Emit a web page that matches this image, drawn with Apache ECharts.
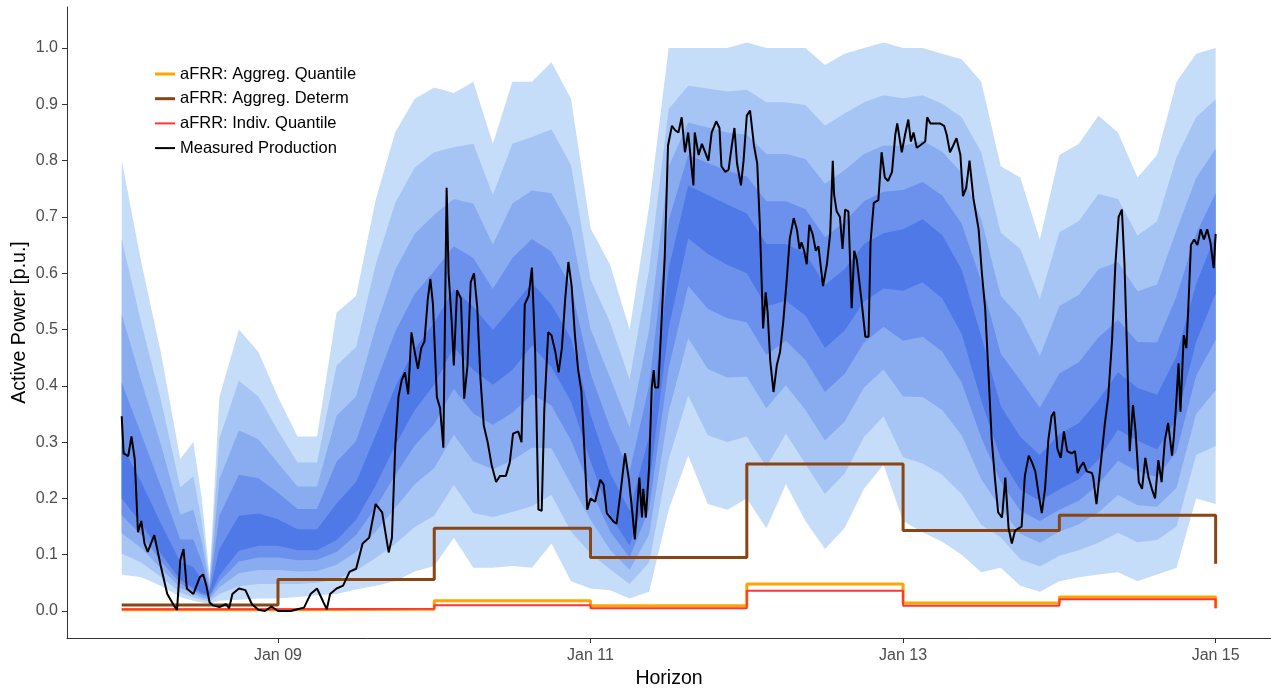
<!DOCTYPE html>
<html>
<head>
<meta charset="utf-8">
<script src="https://cdn.jsdelivr.net/npm/echarts@6/dist/echarts.min.js"></script>
<style>
html,body{margin:0;padding:0;background:#fff;}
#chart{width:1271px;height:690px;}
</style>
</head>
<body>
<div id="chart"></div>
<script>
// ---- Data (hours since Jan 08 00:00) ----
const tickHours = [24, 72, 120, 168];
const tickLabels = ['Jan 09', 'Jan 11', 'Jan 13', 'Jan 15'];
const yTicks = [0, 0.1, 0.2, 0.3, 0.4, 0.5, 0.6, 0.7, 0.8, 0.9, 1.0];

const fanHours = [0,3,6,9,11,12.3,13.5,15,18,21,24,27,30,33,36,39,42,45,48,51,54,57,60,63,66,69,72,75,78,81,84,87,90,93,96,99,102,105,108,111,114,117,120,123,126,129,132,135,138,141,144,147,150,153,156,159,162,165,168];

const band1Hi = [.80,.62,.46,.27,.30,.20,.06,.38,.50,.46,.38,.31,.31,.53,.56,.73,.85,.91,.93,.92,.94,.83,.94,.94,.975,.91,.68,.615,.50,.72,1.0,1.0,1.0,1.0,1.01,1.0,1.0,1.0,.97,.99,1.0,1.01,1.0,1.0,.99,.98,.94,.79,.77,.66,.81,.83,.88,.85,.77,.81,.94,.99,1.0];
const band1Lo = [.065,.06,.045,.025,.018,.015,.013,.018,.02,.022,.022,.025,.028,.03,.038,.045,.053,.07,.08,.13,.077,.077,.08,.077,.12,.053,.04,.037,.022,.034,.18,.276,.19,.18,.20,.147,.225,.16,.11,.147,.217,.26,.16,.14,.123,.10,.069,.077,.045,.034,.053,.06,.065,.069,.053,.065,.077,.20,.19];
const band2Hi = [.661,.512,.376,.220,.239,.160,.053,.306,.409,.381,.320,.264,.264,.436,.469,.615,.725,.788,.815,.824,.830,.739,.830,.842,.856,.792,.589,.513,.411,.607,.892,.933,.928,.923,.926,.904,.904,.899,.862,.884,.904,.916,.911,.916,.901,.877,.815,.672,.643,.554,.673,.693,.741,.732,.667,.692,.806,.877,.909];
const band2Lo = [.102,.086,.061,.033,.024,.020,.017,.030,.044,.048,.048,.048,.050,.056,.072,.094,.119,.149,.169,.224,.174,.167,.176,.186,.206,.141,.102,.074,.048,.086,.269,.383,.312,.300,.310,.256,.315,.261,.208,.244,.309,.346,.273,.262,.242,.208,.153,.131,.092,.079,.098,.108,.121,.139,.122,.126,.150,.277,.293];
const band3Hi = [.527,.409,.296,.171,.180,.122,.046,.234,.321,.305,.263,.221,.221,.347,.381,.504,.606,.670,.704,.732,.724,.651,.724,.747,.742,.680,.501,.415,.326,.499,.789,.868,.859,.850,.846,.812,.812,.803,.759,.783,.812,.827,.826,.836,.816,.778,.696,.560,.521,.453,.542,.562,.607,.620,.568,.580,.677,.769,.821];
const band3Lo = [.138,.112,.076,.041,.031,.024,.021,.042,.067,.073,.073,.070,.071,.082,.105,.141,.183,.225,.254,.313,.266,.252,.268,.290,.289,.225,.162,.109,.073,.136,.354,.485,.430,.415,.416,.360,.401,.357,.303,.336,.397,.429,.381,.380,.357,.312,.234,.182,.137,.121,.141,.154,.175,.206,.188,.185,.219,.350,.392];
const band4Hi = [.406,.314,.222,.127,.127,.088,.040,.169,.242,.236,.210,.181,.181,.265,.302,.404,.496,.563,.604,.648,.627,.572,.627,.661,.638,.577,.422,.326,.248,.400,.694,.810,.796,.782,.772,.728,.728,.714,.664,.691,.728,.745,.748,.762,.738,.688,.586,.457,.410,.361,.422,.442,.486,.517,.478,.477,.559,.670,.742];
const band4Lo = [.170,.135,.089,.049,.036,.029,.025,.053,.088,.095,.095,.090,.091,.105,.135,.184,.241,.294,.332,.395,.351,.331,.352,.385,.365,.303,.217,.141,.095,.181,.432,.578,.537,.520,.513,.455,.480,.446,.389,.421,.477,.505,.480,.487,.461,.406,.308,.229,.178,.160,.180,.196,.225,.267,.248,.238,.283,.418,.482];
const band5Hi = [.295,.229,.156,.087,.078,.056,.034,.110,.169,.173,.163,.145,.145,.191,.229,.312,.398,.466,.512,.572,.540,.499,.540,.583,.544,.484,.349,.245,.178,.311,.609,.756,.739,.722,.706,.652,.652,.635,.579,.607,.652,.671,.678,.696,.668,.606,.488,.364,.309,.277,.314,.334,.375,.424,.396,.384,.453,.581,.669];
const band5Lo = [.200,.156,.102,.055,.041,.032,.028,.063,.107,.116,.116,.108,.108,.126,.162,.223,.294,.357,.402,.469,.428,.402,.428,.471,.433,.372,.266,.170,.116,.222,.502,.662,.634,.615,.600,.541,.551,.525,.467,.498,.550,.573,.569,.584,.555,.492,.374,.271,.215,.196,.216,.234,.269,.322,.303,.287,.341,.478,.564];

// daily reserve levels (start of each day, last = value at Jan 15 00:00)
const dayHours = [0, 24, 48, 72, 96, 120, 144, 168];
const aggregQuantile = [0.002, 0.003, 0.018, 0.0094, 0.048, 0.014, 0.025, 0.005];
const aggregDeterm   = [0.0107, 0.056, 0.147, 0.095, 0.261, 0.143, 0.170, 0.084];
const indivQuantile  = [0.003, 0.004, 0.010, 0.005, 0.036, 0.0094, 0.021, 0.005];

const measured = [[0,.346],[0.3,.28],[1,.275],[1.5,.31],[2,.27],[2.5,.14],[3,.16],[3.5,.12],[4,.105],[5,.135],[6,.08],[7,.03],[8,.01],[8.5,.002],[9,.09],[9.5,.11],[10,.04],[11,.03],[12,.06],[12.5,.065],[13,.045],[13.5,.015],[14,.01],[15,.007],[16,.012],[16.5,.005],[17,.03],[18,.04],[19,.037],[20,.012],[21,.002],[22,0],[23,.008],[24,0],[25,0],[26,0],[27,.003],[28,.006],[29,.03],[30,.04],[31,.015],[31.5,.003],[32,.03],[33,.04],[34,.045],[35,.07],[36,.075],[37,.12],[38,.13],[39,.19],[40,.175],[41,.104],[41.5,.13],[42,.29],[42.5,.38],[43,.41],[43.5,.424],[44,.385],[44.5,.495],[45,.46],[45.5,.43],[46,.467],[46.5,.479],[47,.553],[47.4,.59],[47.8,.545],[48.4,.38],[48.9,.36],[49.4,.29],[49.9,.752],[50.2,.60],[50.7,.51],[51,.436],[51.5,.57],[52.1,.555],[52.6,.377],[53.1,.436],[53.6,.584],[54.1,.60],[54.6,.54],[55.1,.412],[55.6,.33],[56.2,.30],[56.8,.26],[57.5,.229],[58.1,.24],[59,.24],[59.6,.264],[60.1,.315],[60.9,.319],[61.4,.30],[61.9,.545],[62.5,.56],[63,.61],[63.5,.46],[64,.18],[64.5,.178],[64.9,.358],[65.5,.495],[66,.49],[66.6,.46],[67.1,.424],[67.6,.467],[68.1,.553],[68.6,.62],[69.1,.577],[69.6,.49],[70.1,.428],[70.6,.39],[71,.30],[71.5,.18],[72,.20],[72.7,.194],[73.5,.233],[74,.225],[74.5,.174],[75.5,.159],[76,.155],[76.6,.21],[77.3,.28],[77.9,.233],[78.5,.166],[78.8,.127],[79.1,.13],[79.5,.237],[79.9,.166],[80.1,.217],[80.5,.166],[81,.256],[81.4,.397],[81.7,.428],[81.9,.397],[82.4,.397],[82.8,.49],[83.4,.63],[83.9,.827],[84.5,.862],[85,.854],[85.5,.85],[86,.877],[86.5,.815],[87,.85],[87.5,.79],[87.8,.756],[88,.85],[88.6,.81],[89.1,.83],[89.6,.815],[90.1,.80],[90.6,.85],[91.3,.87],[91.8,.858],[92.1,.79],[92.7,.78],[93.2,.784],[93.7,.827],[94.1,.858],[94.5,.795],[95.1,.756],[95.5,.80],[96,.88],[96.5,.889],[97.1,.827],[97.6,.795],[98,.686],[98.3,.577],[98.5,.502],[98.9,.566],[99.2,.53],[99.6,.444],[100.1,.389],[100.6,.436],[101.1,.46],[101.6,.514],[102.1,.584],[102.6,.662],[103.2,.698],[103.7,.677],[104.1,.643],[104.4,.655],[104.8,.64],[105.2,.616],[105.6,.686],[106.1,.67],[106.6,.64],[107,.648],[107.7,.577],[108.3,.616],[108.8,.67],[109.2,.80],[109.4,.74],[109.8,.71],[110.3,.70],[110.7,.643],[111.1,.713],[111.6,.71],[112.1,.538],[112.5,.64],[112.9,.623],[113.6,.553],[114.2,.487],[114.7,.487],[115,.655],[115.5,.725],[116.2,.73],[116.7,.815],[117.2,.77],[117.7,.764],[118.3,.78],[118.8,.846],[119.1,.866],[119.8,.815],[120.3,.846],[120.8,.873],[121.2,.834],[121.6,.85],[122.1,.823],[122.6,.827],[123.4,.834],[123.7,.877],[124.2,.866],[125.7,.866],[126.3,.862],[126.7,.846],[127.2,.815],[127.7,.827],[128.2,.84],[128.8,.81],[129.2,.737],[129.7,.752],[130.2,.80],[130.8,.733],[131.6,.678],[132.1,.60],[132.6,.538],[133.1,.425],[133.6,.306],[134.1,.236],[134.6,.175],[135.2,.166],[135.7,.237],[136.2,.147],[136.7,.12],[137.2,.143],[138.2,.15],[138.7,.24],[139.3,.276],[139.8,.264],[140.3,.248],[140.8,.209],[141.3,.174],[141.8,.217],[142.3,.303],[142.8,.346],[143.2,.354],[143.7,.288],[144.2,.272],[144.7,.319],[145.2,.284],[145.9,.28],[146.4,.284],[146.8,.245],[147.2,.256],[147.7,.264],[148.2,.248],[149,.245],[149.2,.237],[149.7,.19],[150.3,.256],[151,.334],[151.5,.38],[152.1,.483],[152.6,.616],[153.1,.70],[153.6,.713],[154,.616],[154.4,.46],[154.8,.284],[155.3,.366],[155.7,.319],[156.2,.229],[156.7,.217],[157.2,.272],[157.7,.237],[158.2,.217],[158.7,.20],[159.2,.268],[159.7,.229],[160.2,.303],[160.7,.334],[161.3,.276],[161.6,.311],[162,.38],[162.3,.44],[162.6,.354],[163.1,.49],[163.5,.467],[163.8,.538],[164.2,.65],[164.7,.66],[165.2,.65],[165.7,.678],[166.2,.66],[166.7,.678],[167.2,.655],[167.7,.609],[168,.67]];

// ---- Styles / helpers ----
const FONT = "'Liberation Sans', Arial, sans-serif";
const bandColors = ['#c5ddf8', '#a7c5f4', '#89abf0', '#6c91ec', '#5079e8'];
const bands = [[band1Lo, band1Hi],[band2Lo, band2Hi],[band3Lo, band3Hi],[band4Lo, band4Hi],[band5Lo, band5Hi]];

const series = [];
// fan: one polygon per quantile band, placed through the axes with api.coord
series.push({
  type: 'custom', silent: true, z: 1, clip: true,
  data: bands.map((b, k) => [fanHours[0], b[0][0], k]),
  encode: { x: 0, y: 1 },
  renderItem: function (params, api) {
    const k = params.dataIndex;
    const lo = bands[k][0], hi = bands[k][1];
    const pts = [];
    for (let i = 0; i < fanHours.length; i++) pts.push(api.coord([fanHours[i], hi[i]]));
    for (let i = fanHours.length - 1; i >= 0; i--) pts.push(api.coord([fanHours[i], lo[i]]));
    return { type: 'polygon', shape: { points: pts }, style: { fill: bandColors[k], stroke: null } };
  }
});

function steps(levels) { return dayHours.map((h, i) => [h, levels[i]]); }

series.push({ name: 'aFRR: Aggreg. Quantile', type: 'line', step: 'end', symbol: 'none', z: 3,
  data: steps(aggregQuantile), lineStyle: { color: '#FFA500', width: 3 }, itemStyle: { color: '#FFA500' } });
series.push({ name: 'aFRR: Aggreg. Determ', type: 'line', step: 'end', symbol: 'none', z: 3,
  data: steps(aggregDeterm), lineStyle: { color: '#8B4513', width: 3 }, itemStyle: { color: '#8B4513' } });
series.push({ name: 'aFRR: Indiv. Quantile', type: 'line', step: 'end', symbol: 'none', z: 4,
  data: steps(indivQuantile), lineStyle: { color: '#FF3535', width: 2 }, itemStyle: { color: '#FF3535' } });
series.push({ name: 'Measured Production', type: 'line', symbol: 'none', z: 5,
  data: measured, lineStyle: { color: '#000000', width: 2 }, itemStyle: { color: '#000000' } });

const thick = 'path://M0,0H20V3H0Z';
const thin = 'path://M0,0H20V2H0Z';

const chart = echarts.init(document.getElementById('chart'), null, { renderer: 'canvas' });
chart.setOption({
  animation: false,
  backgroundColor: '#ffffff',
  textStyle: { fontFamily: FONT },
  grid: { left: 67, right: 0, top: 7, bottom: 52, containLabel: false, outerBoundsMode: 'none' },
  legend: {
    data: [
      { name: 'aFRR: Aggreg. Quantile', icon: thick },
      { name: 'aFRR: Aggreg. Determ', icon: thick },
      { name: 'aFRR: Indiv. Quantile', icon: thin },
      { name: 'Measured Production', icon: thin }
    ],
    orient: 'vertical', left: 155, top: 65, padding: 0,
    itemWidth: 20, itemHeight: 3, itemGap: 6.7,
    textStyle: { fontFamily: FONT, fontSize: 16.5, color: '#000', lineHeight: 18 },
    selectedMode: false
  },
  xAxis: {
    type: 'value', min: -8.4, max: 176.5,
    name: 'Horizon', nameLocation: 'middle', nameGap: 31, nameMoveOverlap: false,
    nameTextStyle: { fontFamily: FONT, fontSize: 19.5, color: '#000' },
    axisLine: { show: true, onZero: false, lineStyle: { color: '#333', width: 1 } },
    axisTick: { show: true, length: 5, lineStyle: { color: '#333' }, customValues: tickHours },
    axisLabel: { customValues: tickHours, margin: 10, fontFamily: FONT, fontSize: 16, color: '#4d4d4d',
      formatter: v => { const i = tickHours.indexOf(v); return i >= 0 ? tickLabels[i] : ''; } },
    splitLine: { show: false }
  },
  yAxis: {
    type: 'value', min: -0.048, max: 1.073,
    name: 'Active Power [p.u.]', nameLocation: 'middle', nameGap: 37, nameRotate: 90, nameMoveOverlap: false,
    nameTextStyle: { fontFamily: FONT, fontSize: 19.5, color: '#000' },
    axisLine: { show: true, onZero: false, lineStyle: { color: '#333', width: 1 } },
    axisTick: { show: true, length: 5, lineStyle: { color: '#333' }, customValues: yTicks },
    axisLabel: { customValues: yTicks, margin: 9, fontFamily: FONT, fontSize: 16, color: '#4d4d4d',
      formatter: v => v.toFixed(1) },
    splitLine: { show: false }
  },
  series: series
});
</script>
</body>
</html>
